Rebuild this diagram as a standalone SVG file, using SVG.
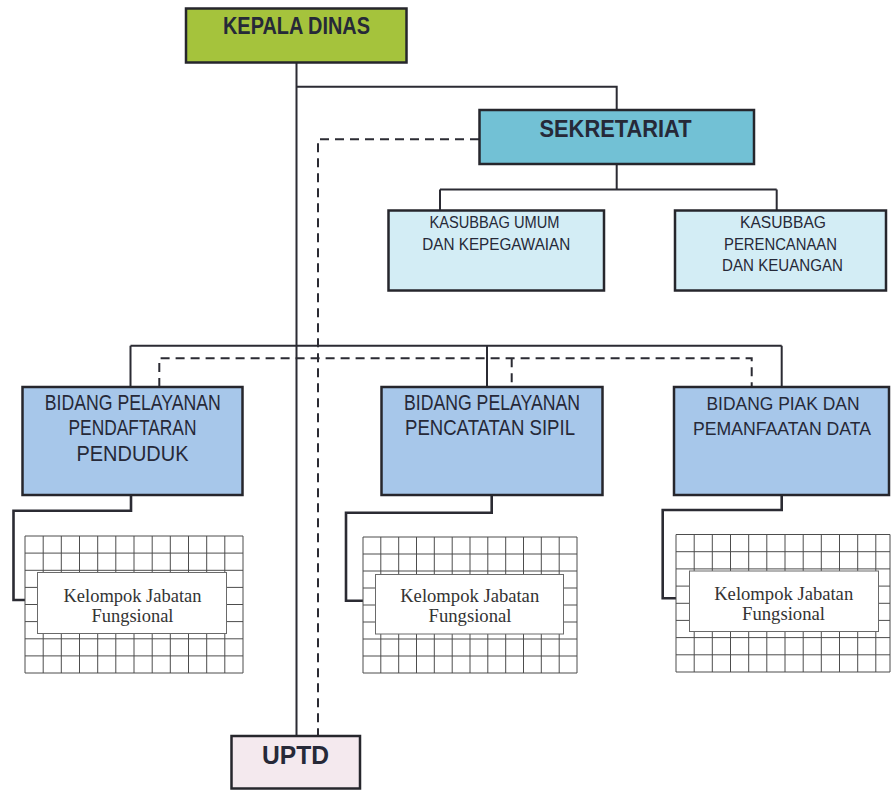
<svg xmlns="http://www.w3.org/2000/svg" width="891" height="790" viewBox="0 0 891 790">
<style>
.box{stroke:#26262c;stroke-width:2.5}
.t{font-family:"Liberation Sans Narrow","Liberation Sans",Arial,sans-serif;fill:#262938;text-anchor:middle}
.b{font-weight:bold}
.s{font-family:"Liberation Serif","Times New Roman",serif;fill:#333;text-anchor:middle;font-size:18.5px}
.ln{fill:none;stroke:#2b2b33;stroke-width:2}
.lt{fill:none;stroke:#2b2b33;stroke-width:2.6}
.ds{fill:none;stroke:#2b2b33;stroke-width:2;stroke-dasharray:9 6}
.grid{fill:none;stroke:#4d4d4d;stroke-width:1}
.kj{fill:#fff;stroke:#6a6a6a;stroke-width:1}
</style>
<rect width="891" height="790" fill="#fff"/>
<g id="connectors">
<path class="ln" d="M296.5 62.5V736M296.5 86.7H616.7V110"/>
<path class="ln" d="M616.7 164V189.5M440 189.5H776.7M440 189.5V210.5M776.7 189.5V210.5"/>
<path class="ln" d="M130.5 345.7H781.7M130.5 345.7V387M487 345.7V387M781.7 345.7V387"/>
<path class="ds" d="M479 139.3H318V736"/>
<path class="ds" d="M159.3 387V358.3H751.7V387M511.7 358.3V387"/>
<path class="lt" d="M131 495V510.7H13.5V600H25"/>
<path class="lt" d="M491.7 495V512.7H346V600.7H363"/>
<path class="lt" d="M781.7 495V510H662.7V598.3H676"/>
</g>
<g id="kepala-dinas">
<rect class="box" x="186" y="8.5" width="220.5" height="54" fill="#a5c33c"/>
<text class="t b" x="296.5" y="33.5" font-size="23.5" textLength="147" lengthAdjust="spacingAndGlyphs">KEPALA DINAS</text>
</g>
<g id="sekretariat">
<rect class="box" x="479.5" y="110" width="274.5" height="54" fill="#72c1d5"/>
<text class="t b" x="615.5" y="136.7" font-size="23.5" textLength="152" lengthAdjust="spacingAndGlyphs">SEKRETARIAT</text>
</g>
<g id="kasubbag-umum">
<rect class="box" x="388.5" y="210.5" width="215.5" height="80" fill="#d3edf5"/>
<text class="t" x="494.5" y="228" font-size="17.4" textLength="130" lengthAdjust="spacingAndGlyphs">KASUBBAG UMUM</text>
<text class="t" x="496.3" y="249.5" font-size="17.4" textLength="148" lengthAdjust="spacingAndGlyphs">DAN KEPEGAWAIAN</text>
</g>
<g id="kasubbag-perencanaan">
<rect class="box" x="675" y="210.5" width="211" height="80" fill="#d3edf5"/>
<text class="t" x="783" y="228" font-size="17.4" textLength="86" lengthAdjust="spacingAndGlyphs">KASUBBAG</text>
<text class="t" x="780.5" y="249.5" font-size="17.4" textLength="113" lengthAdjust="spacingAndGlyphs">PERENCANAAN</text>
<text class="t" x="782.5" y="271" font-size="17.4" textLength="121" lengthAdjust="spacingAndGlyphs">DAN KEUANGAN</text>
</g>
<g id="bidang-pendaftaran">
<rect class="box" x="22.5" y="387" width="220" height="108" fill="#a7c7ea"/>
<text class="t" x="132.8" y="409.5" font-size="21.2" textLength="176" lengthAdjust="spacingAndGlyphs">BIDANG PELAYANAN</text>
<text class="t" x="132.5" y="435" font-size="21.2" textLength="128" lengthAdjust="spacingAndGlyphs">PENDAFTARAN</text>
<text class="t" x="132.5" y="460.5" font-size="21.2" textLength="112" lengthAdjust="spacingAndGlyphs">PENDUDUK</text>
</g>
<g id="bidang-pencatatan">
<rect class="box" x="381.5" y="387" width="221" height="108" fill="#a7c7ea"/>
<text class="t" x="492" y="409.5" font-size="21.2" textLength="176" lengthAdjust="spacingAndGlyphs">BIDANG PELAYANAN</text>
<text class="t" x="490" y="435" font-size="21.2" textLength="170" lengthAdjust="spacingAndGlyphs">PENCATATAN SIPIL</text>
</g>
<g id="bidang-piak">
<rect class="box" x="674" y="387" width="215" height="108" fill="#a7c7ea"/>
<text class="t" x="783" y="409.5" font-size="19" textLength="153" lengthAdjust="spacingAndGlyphs">BIDANG PIAK DAN</text>
<text class="t" x="782" y="435" font-size="18.5" textLength="178" lengthAdjust="spacingAndGlyphs">PEMANFAATAN DATA</text>
</g>
<g id="fungsional-1">
<path class="grid" d="M25 536H243V673H25ZM43.2 536V673M61.3 536V673M79.5 536V673M97.7 536V673M115.8 536V673M134 536V673M152.2 536V673M170.3 536V673M188.5 536V673M206.7 536V673M224.8 536V673M25 553.1H243M25 570.3H243M25 587.4H243M25 604.5H243M25 621.6H243M25 638.8H243M25 655.9H243"/>
<rect class="kj" x="37.5" y="572.5" width="189" height="61"/>
<text class="s" x="132.5" y="601.5" textLength="138" lengthAdjust="spacingAndGlyphs">Kelompok Jabatan</text>
<text class="s" x="132.5" y="621.5" textLength="82" lengthAdjust="spacingAndGlyphs">Fungsional</text>
</g>
<g id="fungsional-2">
<path class="grid" d="M363 537H577V673H363ZM380.8 537V673M398.7 537V673M416.5 537V673M434.3 537V673M452.2 537V673M470 537V673M487.8 537V673M505.7 537V673M523.5 537V673M541.3 537V673M559.2 537V673M363 554H577M363 571H577M363 588H577M363 605H577M363 622H577M363 639H577M363 656H577"/>
<rect class="kj" x="375.5" y="574.5" width="188" height="59.5"/>
<text class="s" x="469.7" y="601.5" textLength="139" lengthAdjust="spacingAndGlyphs">Kelompok Jabatan</text>
<text class="s" x="470" y="621.5" textLength="83" lengthAdjust="spacingAndGlyphs">Fungsional</text>
</g>
<g id="fungsional-3">
<path class="grid" d="M676 534.5H890V672H676ZM694.2 534.5V672M712.3 534.5V672M730.5 534.5V672M748.7 534.5V672M766.8 534.5V672M785 534.5V672M803.2 534.5V672M821.3 534.5V672M839.5 534.5V672M857.7 534.5V672M875.8 534.5V672M676 551.7H890M676 568.9H890M676 586.1H890M676 603.3H890M676 620.4H890M676 637.6H890M676 654.8H890"/>
<rect class="kj" x="689.5" y="571" width="189" height="60.5"/>
<text class="s" x="783.7" y="600" textLength="139" lengthAdjust="spacingAndGlyphs">Kelompok Jabatan</text>
<text class="s" x="783.5" y="620" textLength="83" lengthAdjust="spacingAndGlyphs">Fungsional</text>
</g>
<g id="uptd">
<rect class="box" x="231.5" y="736" width="128.5" height="52.5" fill="#f4e9ee"/>
<text class="t b" x="295.5" y="764" font-size="26.5" textLength="67" lengthAdjust="spacingAndGlyphs">UPTD</text>
</g>
</svg>
